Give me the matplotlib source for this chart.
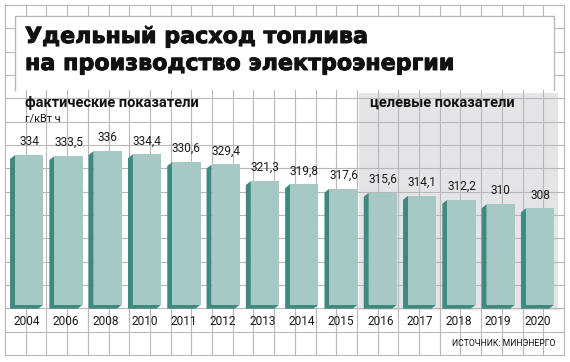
import matplotlib
matplotlib.use("Agg")
import matplotlib.pyplot as plt
import matplotlib.patheffects as pe
from matplotlib.patches import Polygon, Rectangle

# data
years = ["2004", "2006", "2008", "2010", "2011", "2012", "2013",
         "2014", "2015", "2016", "2017", "2018", "2019", "2020"]
values = [334, 333.5, 336, 334.4, 330.6, 329.4, 321.3,
          319.8, 317.6, 315.6, 314.1, 312.2, 310, 308]

title_lines = ["Удельный расход топлива", "на производство электроэнергии"]
label_actual = "фактические показатели"
label_target = "целевые показатели"
unit = "г/кВт ч"
source = "ИСТОЧНИК: МИНЭНЕРГО"

FRONT = "#a7c9c6"
SIDE = "#3e8a80"
GRID = "#b8b8b8"
SHADE = "#e5e5e7"

W, H = 570, 362
fig = plt.figure(figsize=(W / 100, H / 100), dpi=100)
fig.patch.set_facecolor("white")

# background: graph paper, title box, shaded target zone (pixel coords)
bg = fig.add_axes([0, 0, 1, 1])
bg.set_xlim(0, W)
bg.set_ylim(H, 0)
bg.axis("off")

gx0, gy0, cw, ch = 5, 5, 20.7, 23.33
bg.add_patch(Rectangle((359, 93), 199, 217, facecolor=SHADE, edgecolor="none", zorder=0))
for k in range(28):
    x = gx0 + cw * k
    bg.plot([x, x], [gy0, gy0 + ch * 15], color=GRID, lw=0.8, zorder=1)
for k in range(16):
    y = gy0 + ch * k
    bg.plot([gx0, gx0 + cw * 27], [y, y], color=GRID, lw=0.8, zorder=1)

bg.add_patch(Rectangle((15, 16), 539, 74, facecolor="white", edgecolor="none", zorder=2))
bg.plot([15, 15, 554, 554], [90, 16, 16, 90], color=GRID, lw=1.0, zorder=3)

heavy = [pe.withStroke(linewidth=0.7, foreground="#111111")]
bg.text(25, 43, title_lines[0], fontsize=16, fontweight="bold",
        family="DejaVu Sans", va="baseline", color="#111111", zorder=4,
        path_effects=heavy)
bg.text(25, 70, title_lines[1], fontsize=16, fontweight="bold",
        family="DejaVu Sans", va="baseline", color="#111111", zorder=4,
        path_effects=heavy)

bg.text(25, 103, label_actual, fontsize=10.5, fontweight="bold", family="Roboto",
        va="center", color="#111111", zorder=4)
bg.text(370, 103, label_target, fontsize=10.5, fontweight="bold", family="Roboto",
        va="center", color="#111111", zorder=4)
bg.text(25, 118, unit, fontsize=7.8, family="Roboto", va="center",
        color="#111111", zorder=4)
bg.text(555, 343, source, fontsize=6.2, family="Roboto", ha="right",
        va="center", color="#111111", zorder=4)

# bars
base = 261
ax = fig.add_axes([9.55 / W, (H - 304.7) / H, 550.2 / W, 211.7 / H])
ax.set_xlim(-0.5, 13.5)
ax.set_ylim(base, base + 211.7 / 2.05)
ax.axis("off")
ax.patch.set_alpha(0)

bw = 0.72
dx = 5 / 39.3
dy = 4 / 2.05
xs = list(range(len(values)))
for i, v in zip(xs, values):
    x0, x1 = i - bw / 2, i + bw / 2
    side = Polygon([(x0 - dx, v - dy), (x0, v), (x0, base), (x1, base),
                    (x1 - dx, base - dy), (x0 - dx, base - dy)],
                   closed=True, facecolor=SIDE, edgecolor="none",
                   clip_on=False, zorder=2)
    ax.add_patch(side)
ax.bar(xs, [v - base for v in values], bottom=base, width=bw,
       color=FRONT, edgecolor="none", zorder=3, clip_on=False)

for i, v in zip(xs, values):
    ax.annotate(f"{v:g}".replace(".", ","), (i, v), xytext=(0, 9.6),
                textcoords="offset points", ha="center", va="center",
                fontsize=8.6, family="Roboto", color="#1a1a1a",
                annotation_clip=False)
for i, yr in zip(xs, years):
    ax.annotate(yr, (i, base), xytext=(-1.8, -12),
                textcoords="offset points", ha="center", va="center",
                fontsize=8.6, family="Roboto", color="#1a1a1a",
                annotation_clip=False)

fig.savefig("out.png", dpi=100, facecolor="white")
